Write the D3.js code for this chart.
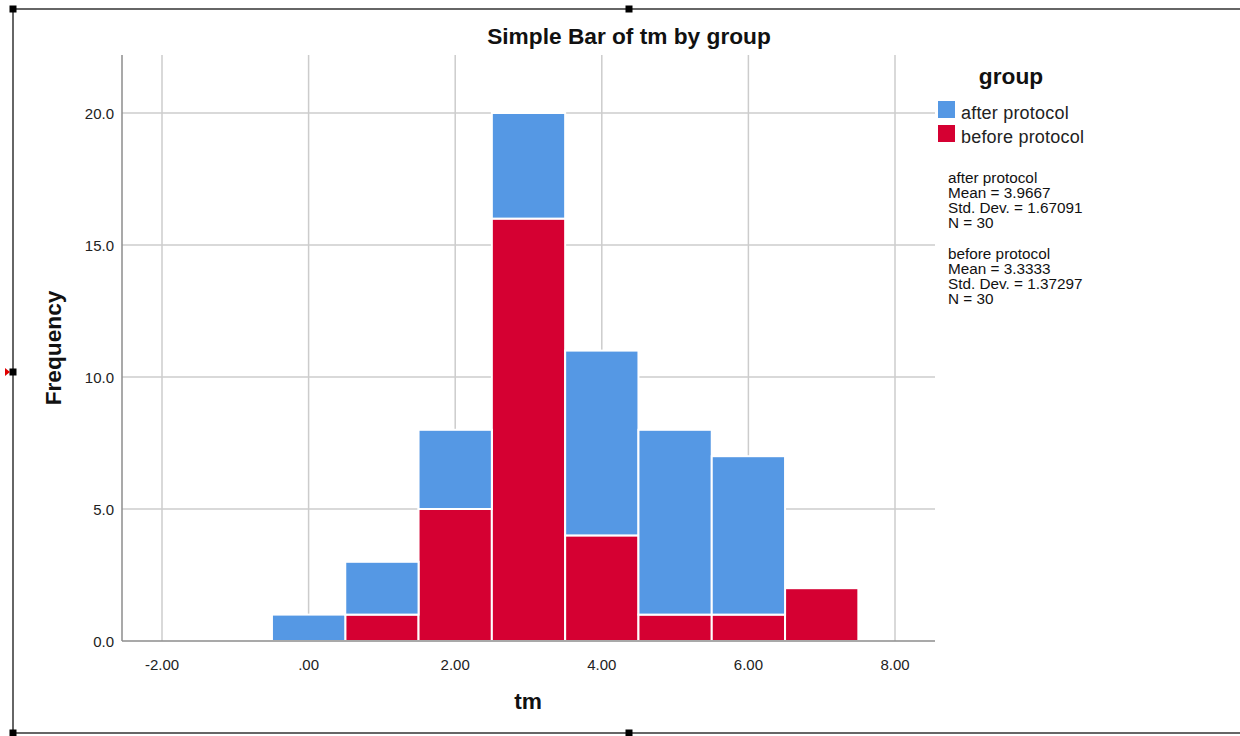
<!DOCTYPE html>
<html><head><meta charset="utf-8">
<script src="https://cdn.jsdelivr.net/npm/d3@7"></script>
<style>body{margin:0;background:#fff}svg{display:block}text{font-family:"Liberation Sans",Arial,sans-serif}</style>
</head><body>
<script>
const bins = [0,1,2,3,4,5,6,7];
const beforeVals = [0,1,5,16,4,1,1,2];
const afterVals  = [1,2,3,4,7,7,6,0];
const xTicks = [-2,0,2,4,6,8];
const xTickLabels = ["-2.00",".00","2.00","4.00","6.00","8.00"];
const yTicks = [0,5,10,15,20];
const seriesNames = ["after protocol","before protocol"];
const stats = [
  ["after protocol","Mean = 3.9667","Std. Dev. = 1.67091","N = 30"],
  ["before protocol","Mean = 3.3333","Std. Dev. = 1.37297","N = 30"]
];
const colors = {"after protocol":"#5598e4","before protocol":"#d50032"};

const W=1240,H=736;
const svg=d3.select("body").append("svg").attr("width",W).attr("height",H);
const L=122,R=935,T=55,B=641;
const x=d3.scaleLinear().domain([-2,8]).range([162,895]);
const y=d3.scaleLinear().domain([0,20]).range([B,113]);

// gridlines
svg.append("g").selectAll("line").data(xTicks).join("line")
  .attr("x1",d=>x(d)).attr("x2",d=>x(d)).attr("y1",T).attr("y2",B)
  .attr("stroke","#cccccc").attr("stroke-width",1.5);
svg.append("g").selectAll("line").data(yTicks.filter(d=>d>0)).join("line")
  .attr("x1",L).attr("x2",R).attr("y1",d=>y(d)).attr("y2",d=>y(d))
  .attr("stroke","#cccccc").attr("stroke-width",1.5);

// bars
const data=bins.map((b,i)=>({bin:b,"before protocol":beforeVals[i],"after protocol":afterVals[i]}));
const stack=d3.stack().keys(["before protocol","after protocol"])(data);
svg.append("g").selectAll("g").data(stack).join("g").attr("fill",s=>colors[s.key])
  .selectAll("rect").data(s=>s.filter(d=>d[1]>d[0])).join("rect")
  .attr("x",d=>x(d.data.bin-0.5)).attr("width",d=>x(d.data.bin+0.5)-x(d.data.bin-0.5))
  .attr("y",d=>y(d[1])).attr("height",d=>y(d[0])-y(d[1]))
  .attr("stroke","#ffffff").attr("stroke-width",2);

// axes lines
svg.append("line").attr("x1",L).attr("x2",L).attr("y1",T).attr("y2",B).attr("stroke","#8c8c8c").attr("stroke-width",1.5);
svg.append("line").attr("x1",L).attr("x2",R).attr("y1",B).attr("y2",B).attr("stroke","#8c8c8c").attr("stroke-width",1.5);

// tick labels
svg.append("g").selectAll("text").data(yTicks).join("text")
  .attr("x",114).attr("y",d=>y(d)+5.5).attr("text-anchor","end")
  .attr("font-size",15).attr("fill","#222").text(d=>d.toFixed(1));
svg.append("g").selectAll("text").data(xTicks).join("text")
  .attr("x",d=>x(d)).attr("y",670).attr("text-anchor","middle")
  .attr("font-size",15).attr("fill","#222").text((d,i)=>xTickLabels[i]);

// titles
svg.append("text").attr("x",629).attr("y",44).attr("text-anchor","middle")
  .attr("font-size",22.7).attr("font-weight","bold").attr("fill","#111").text("Simple Bar of tm by group");
svg.append("text").attr("transform","translate(61,348) rotate(-90)").attr("text-anchor","middle")
  .attr("font-size",22.7).attr("font-weight","bold").attr("fill","#111").text("Frequency");
svg.append("text").attr("x",528).attr("y",709).attr("text-anchor","middle")
  .attr("font-size",22.7).attr("font-weight","bold").attr("fill","#111").text("tm");

// legend
svg.append("text").attr("x",1011).attr("y",84).attr("text-anchor","middle")
  .attr("font-size",22.7).attr("font-weight","bold").attr("fill","#111").text("group");
const lg=svg.append("g").selectAll("g").data(seriesNames).join("g")
  .attr("transform",(d,i)=>`translate(938,${101+i*24})`);
lg.append("rect").attr("width",17).attr("height",17).attr("fill",d=>colors[d]);
lg.append("text").attr("x",23).attr("y",17.5).attr("font-size",18).attr("letter-spacing",0.2)
  .attr("fill","#222").text(d=>d);

// stats
const sg=svg.append("g").selectAll("g").data(stats).join("g")
  .attr("transform",(d,i)=>`translate(948,${183+i*76})`);
sg.selectAll("text").data(d=>d).join("text")
  .attr("x",0).attr("y",(d,i)=>i*15).attr("font-size",15.3).attr("fill","#111")
  .text(d=>d);

// frame
const fr=svg.append("g");
fr.append("line").attr("x1",13).attr("x2",W).attr("y1",9).attr("y2",9).attr("stroke","#333").attr("stroke-width",1.5);
fr.append("line").attr("x1",13).attr("x2",W).attr("y1",733).attr("y2",733).attr("stroke","#333").attr("stroke-width",1.5);
fr.append("line").attr("x1",13).attr("x2",13).attr("y1",9).attr("y2",733).attr("stroke","#333").attr("stroke-width",1.5);
const handles=[[13,9],[629,9],[13,372],[13,733],[629,733]];
fr.selectAll("rect").data(handles).join("rect")
  .attr("x",d=>d[0]-3.5).attr("y",d=>d[1]-3.5).attr("width",7).attr("height",7).attr("fill","#000");
fr.append("path").attr("d","M5,368 L10,372 L5,376 Z").attr("fill","#e00000");
</script>
</body></html>
